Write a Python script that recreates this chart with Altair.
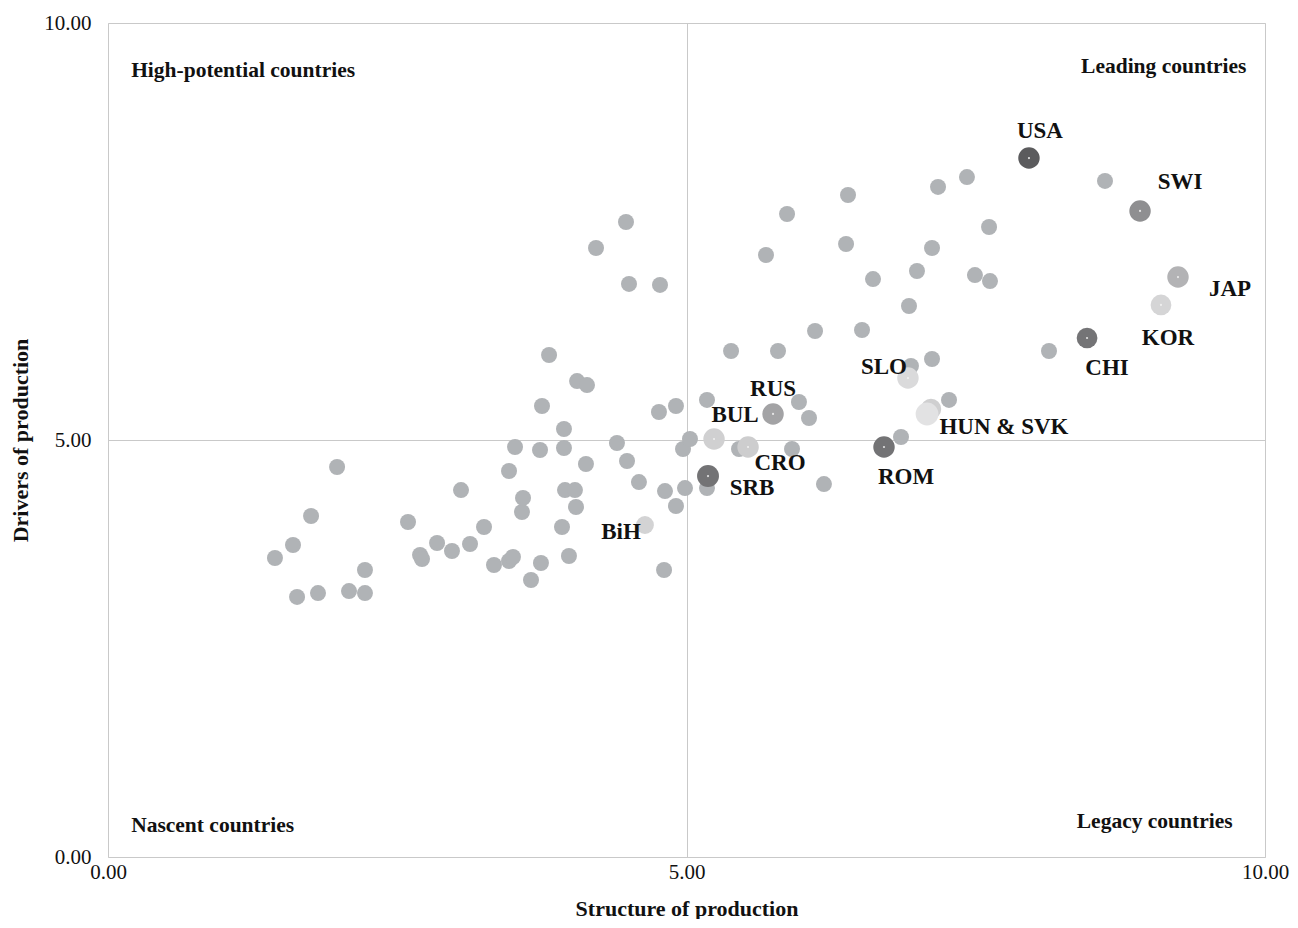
import altair as alt
import pandas as pd

# ---- data ----
grey_x = [1.443, 1.599, 1.634, 1.755, 1.815, 1.980, 2.083, 2.221, 2.221, 2.593,
          2.697, 2.714, 2.844, 2.973, 3.051, 3.129, 3.250, 3.336, 3.466, 3.466,
          3.500, 3.518, 3.578, 3.587, 3.656, 3.734, 3.742, 3.751, 3.812, 3.924,
          3.941, 3.941, 3.950, 3.984, 4.036, 4.045, 4.054, 4.131, 4.140, 4.218,
          4.399, 4.477, 4.486, 4.503, 4.589, 4.771, 4.762, 4.814, 4.806, 4.909,
          4.909, 4.970, 4.987, 5.030, 5.177, 5.177, 5.385, 5.454, 5.687, 5.791,
          5.869, 5.912, 5.972, 6.059, 6.111, 6.188, 6.379, 6.396, 6.517, 6.612,
          6.854, 6.923, 6.940, 6.992, 7.122, 7.122, 7.174, 7.269, 7.424, 7.493,
          7.615, 7.623, 8.133, 8.617]
grey_y = [3.585, 3.741, 3.118, 4.089, 3.165, 4.676, 3.189, 3.441, 3.165, 4.017,
          3.621, 3.573, 3.765, 3.669, 4.400, 3.753, 3.957, 3.501, 4.628, 3.549,
          3.597, 4.916, 4.137, 4.305, 3.321, 4.880, 3.525, 5.408, 6.019, 3.957,
          5.132, 4.904, 4.400, 3.609, 4.400, 4.197, 5.707, 4.712, 5.659, 7.302,
          4.964, 7.614, 4.748, 6.871, 4.496, 6.859, 5.336, 4.388, 3.441, 5.408,
          4.209, 4.892, 4.424, 5.012, 5.480, 4.424, 6.067, 4.892, 7.218, 6.067,
          7.710, 4.892, 5.456, 5.264, 6.307, 4.472, 7.350, 7.938, 6.319, 6.930,
          5.036, 6.607, 5.887, 7.026, 7.302, 5.971, 8.034, 5.480, 8.153, 6.978,
          7.554, 6.906, 6.067, 8.106]

hl_code = ["USA", "SWI", "JAP", "KOR", "CHI", "SLO", "HUN", "SVK", "RUS", "BUL",
           "CRO", "SRB", "ROM", "BiH"]
hl_x = [7.960, 8.920, 9.248, 9.101, 8.462, 6.914, 7.113, 7.079, 5.748, 5.238,
        5.532, 5.186, 6.707, 4.641]
hl_y = [8.381, 7.746, 6.954, 6.619, 6.223, 5.743, 5.372, 5.312, 5.312, 5.012,
        4.916, 4.568, 4.916, 3.981]

label_code = ["USA", "SWI", "JAP", "KOR", "CHI", "SLO", "HUN", "RUS", "BUL",
              "CRO", "SRB", "ROM", "BiH"]
label_text = ["USA", "SWI", "JAP", "KOR", "CHI", "SLO", "HUN & SVK", "RUS", "BUL",
              "CRO", "SRB", "ROM", "BiH"]

quad_text = ["High-potential countries", "Leading countries",
             "Nascent countries", "Legacy countries"]
quad_x = [0.2, 9.84, 0.2, 9.72]
quad_y = [9.42, 9.47, 0.37, 0.42]
quad_align = ["left", "right", "left", "right"]

axis_values = [0, 5, 10]

# ---- styles ----
hl_color = {"USA": "#5b5b5d", "SWI": "#8f8f91", "JAP": "#b3b3b5", "KOR": "#d5d5d6",
            "CHI": "#747476", "SLO": "#dadadb", "HUN": "#cfcfd0", "SVK": "#e2e2e3",
            "RUS": "#a3a3a5", "BUL": "#d0d0d1", "CRO": "#cdcdce", "SRB": "#737375",
            "ROM": "#737375", "BiH": "#d3d3d4"}
hl_size = {"USA": 460, "SWI": 460, "JAP": 460, "KOR": 430, "CHI": 430, "SLO": 460,
           "HUN": 420, "SVK": 520, "RUS": 460, "BUL": 460, "CRO": 460, "SRB": 480,
           "ROM": 460, "BiH": 320}
label_off = {"USA": (11, -27), "SWI": (40, -29), "JAP": (52, 12), "KOR": (7, 33),
             "CHI": (20, 30), "SLO": (-24, -11), "HUN": (73, 18), "RUS": (0, -25),
             "BUL": (21, -24), "CRO": (32, 16), "SRB": (44, 12), "ROM": (22, 30),
             "BiH": (-24, 7)}
FONT = "Liberation Serif"

xscale = alt.Scale(domain=[0, 10], nice=False, zero=False)
yscale = alt.Scale(domain=[0, 10], nice=False, zero=False)

grey_df = pd.DataFrame({"x": grey_x, "y": grey_y})
hl_df = pd.DataFrame({"code": hl_code, "x": hl_x, "y": hl_y})
hl_df["color"] = hl_df["code"].map(hl_color)
hl_df["size"] = hl_df["code"].map(hl_size)
quad_df = pd.DataFrame({"text": quad_text, "x": quad_x, "y": quad_y, "align": quad_align})

x_axis = alt.Axis(values=axis_values, format=".2f", grid=True, gridColor="#c9c9c9",
                  gridWidth=1, domain=False, ticks=False, labelFont=FONT,
                  labelFontSize=21, labelColor="#111", labelPadding=4,
                  labelFlush=False, title="Structure of production", titleFont=FONT,
                  titleFontSize=22, titleFontWeight="bold", titleColor="#111",
                  titleY=41)
y_axis = alt.Axis(values=axis_values, format=".2f", grid=True, gridColor="#c9c9c9",
                  gridWidth=1, domain=False, ticks=False, labelFont=FONT,
                  labelFontSize=21, labelColor="#111", labelPadding=17,
                  labelFlush=False, title="Drivers of production", titleFont=FONT,
                  titleFontSize=22, titleFontWeight="bold", titleColor="#111",
                  titleX=-76, titleY=417, titleAngle=-90, titleBaseline="bottom",
                  titleAlign="center")

grey = alt.Chart(grey_df).mark_circle(opacity=1, color="#b0b3b6", size=256).encode(
    x=alt.X("x:Q", scale=xscale, axis=x_axis),
    y=alt.Y("y:Q", scale=yscale, axis=y_axis),
)

hl = alt.Chart(hl_df).mark_circle(opacity=1).encode(
    x=alt.X("x:Q", scale=xscale),
    y=alt.Y("y:Q", scale=yscale),
    color=alt.Color("color:N", scale=None),
    size=alt.Size("size:Q", scale=None),
)

dot_df = hl_df[~hl_df["code"].isin(["BiH", "HUN", "SVK"])]
dots = alt.Chart(dot_df).mark_circle(opacity=0.85, color="#f2f2f2", size=5).encode(
    x=alt.X("x:Q", scale=xscale),
    y=alt.Y("y:Q", scale=yscale),
)

layers = [grey, hl, dots]

for code, text in zip(label_code, label_text):
    dx, dy = label_off[code]
    one = hl_df[hl_df["code"] == code].assign(label=text)
    layers.append(
        alt.Chart(one).mark_text(font=FONT, fontSize=23, fontWeight="bold",
                                 color="#111", dx=dx, dy=dy, align="center",
                                 baseline="middle").encode(
            x=alt.X("x:Q", scale=xscale),
            y=alt.Y("y:Q", scale=yscale),
            text="label:N",
        )
    )

for al in ["left", "right"]:
    layers.append(
        alt.Chart(quad_df[quad_df["align"] == al]).mark_text(
            font=FONT, fontSize=21.5, fontWeight="bold", color="#111",
            align=al, baseline="middle").encode(
            x=alt.X("x:Q", scale=xscale),
            y=alt.Y("y:Q", scale=yscale),
            text="text:N",
        )
    )

chart = alt.layer(*layers).properties(
    width=1157, height=834,
    autosize=alt.AutoSizeParams(type="none"),
    padding={"left": 100, "top": 15, "right": 25, "bottom": 62},
).configure_view(stroke=None).configure(background="white")

chart.save("out.html", embed_options={"renderer": "svg", "actions": False})
